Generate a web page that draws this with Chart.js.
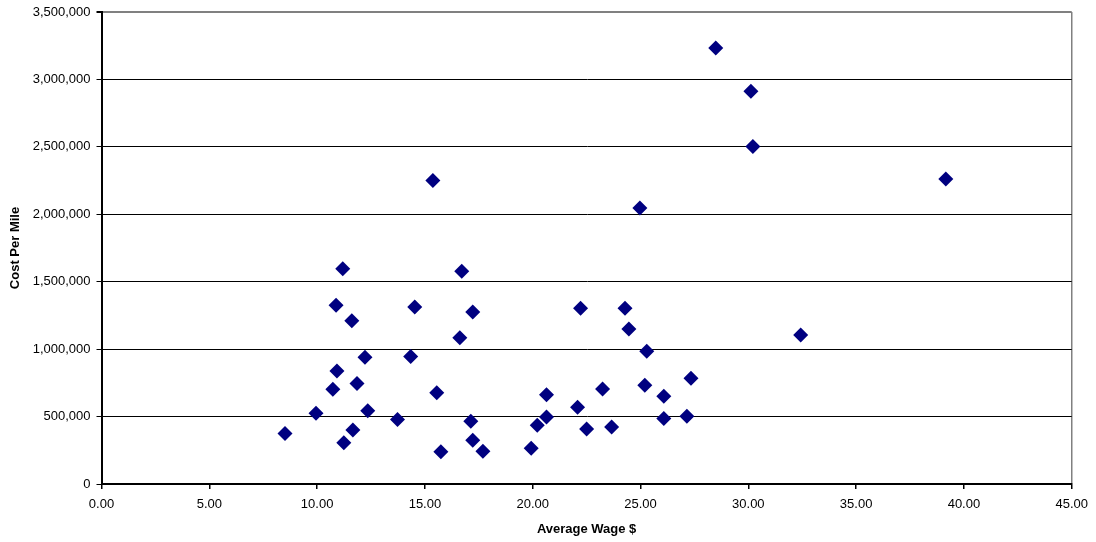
<!DOCTYPE html>
<html>
<head>
<meta charset="utf-8">
<script src="https://cdn.jsdelivr.net/npm/chart.js@4"></script>
<style>
html,body{margin:0;padding:0;background:#fff;}
#wrap{width:1096px;height:542px;}
</style>
</head>
<body>
<div id="wrap"><canvas id="c" width="1096" height="542"></canvas></div>
<script>
const averageWage = [8.51, 9.95, 10.88, 10.73, 10.92, 11.19, 11.24, 11.61, 11.66, 11.85, 12.22, 12.35, 13.73, 14.34, 14.53, 15.37, 15.55, 15.74, 16.62, 16.71, 17.13, 17.22, 17.22, 17.69, 19.93, 20.21, 20.64, 20.64, 22.08, 22.22, 22.50, 23.24, 23.66, 24.28, 24.46, 24.97, 25.20, 25.29, 26.08, 26.08, 27.15, 27.34, 28.49, 30.12, 30.21, 32.43, 39.16];
const costPerMile = [374000, 525000, 1325000, 702000, 837000, 1597000, 305000, 1210000, 400000, 746000, 940000, 543000, 478000, 946000, 1313000, 2250000, 677000, 240000, 1085000, 1577000, 465000, 1275000, 325000, 243000, 266000, 436000, 497000, 662000, 569000, 1303000, 408000, 705000, 423000, 1303000, 1150000, 2046000, 732000, 985000, 651000, 485000, 503000, 785000, 3233000, 2913000, 2503000, 1105000, 2262000];
const xTicks = [0, 5, 10, 15, 20, 25, 30, 35, 40, 45];
const yTicks = [0, 500000, 1000000, 1500000, 2000000, 2500000, 3000000, 3500000];
const xTitle = 'Average Wage $';
const yTitle = 'Cost Per Mile';

const points = averageWage.map((x, i) => ({x: x, y: costPerMile[i]}));
const FONT = 'Liberation Sans, Arial, sans-serif';

new Chart(document.getElementById('c'), {
  type: 'scatter',
  data: {
    datasets: [{
      data: points,
      pointStyle: 'rectRot',
      pointRadius: 7.5,
      backgroundColor: '#000080',
      borderColor: '#000080',
      borderWidth: 0
    }]
  },
  options: {
    responsive: false,
    animation: false,
    devicePixelRatio: 1,
    layout: {padding: {top: 12, right: 23, bottom: 0, left: 0}},
    plugins: {legend: {display: false}, tooltip: {enabled: false}},
    scales: {
      x: {
        type: 'linear',
        min: xTicks[0],
        max: xTicks[xTicks.length - 1],
        afterBuildTicks: s => { s.ticks = xTicks.map(v => ({value: v})); },
        afterFit: s => { s.height = 58; },
        ticks: {
          color: '#000',
          font: {family: FONT, size: 13},
          padding: 8,
          maxRotation: 0,
          callback: v => Number(v).toFixed(2)
        },
        grid: {
          color: ctx => (ctx.tick && ctx.tick.value === 45) ? '#808080' : 'rgba(0,0,0,0)',
          tickColor: '#000',
          tickLength: 5,
          lineWidth: 1.5
        },
        border: {color: '#000', width: 2},
        title: {
          display: true,
          text: xTitle,
          color: '#000',
          font: {family: FONT, size: 13, weight: 'bold'},
          padding: {top: 0, bottom: 5}
        }
      },
      y: {
        type: 'linear',
        min: yTicks[0],
        max: yTicks[yTicks.length - 1],
        afterBuildTicks: s => { s.ticks = yTicks.map(v => ({value: v})); },
        afterFit: s => { s.width = 101.5; s.paddingTop = 0; s.paddingBottom = 0; },
        ticks: {
          color: '#000',
          font: {family: FONT, size: 13},
          padding: 6,
          callback: v => Number(v).toLocaleString('en-US')
        },
        grid: {
          color: ctx => (ctx.tick && ctx.tick.value === 3500000) ? '#808080' : '#000',
          tickColor: '#000',
          tickLength: 5,
          lineWidth: ctx => (ctx.tick && ctx.tick.value === 3500000) ? 2 : 1
        },
        border: {color: '#000', width: 2},
        title: {
          display: true,
          text: yTitle,
          color: '#000',
          font: {family: FONT, size: 13, weight: 'bold'},
          padding: {top: 8, bottom: 0}
        }
      }
    }
  }
});
</script>
</body>
</html>
